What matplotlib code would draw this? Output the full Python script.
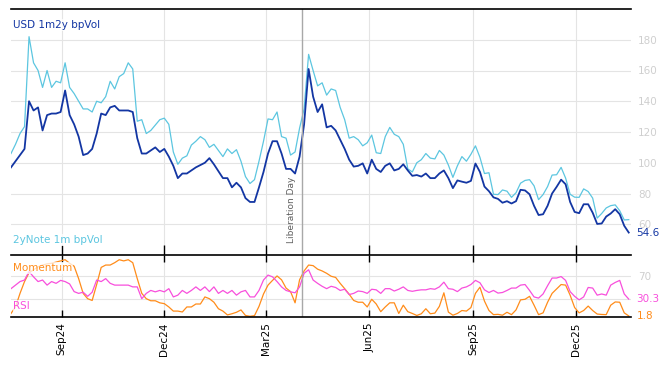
import numpy as np
import pandas as pd
import matplotlib
matplotlib.use('Agg')
import matplotlib.pyplot as plt
import matplotlib.dates as mdates

plt.rcParams['font.family'] = ['DejaVu Sans']

# data, one point every 4 days
dates = pd.date_range('2024-07-18', periods=138, freq='4D')

usd_vol = [97, 101, 105, 109, 140, 134, 136, 121, 131, 132,
           132, 133, 147, 131, 125, 117, 105, 106, 109, 119,
           132, 131, 136, 137, 134, 134, 134, 133, 116, 106,
           106, 108, 110, 107, 109, 104, 98, 90, 93, 93,
           95, 97, 98.5, 100, 103, 99, 94.5, 90, 90, 84,
           87, 84, 77, 74.5, 74.5, 84, 94, 106, 114, 114,
           106, 96, 96, 93, 104, 125, 161, 143, 133, 138,
           123, 124, 121, 115, 109, 102, 97.5, 98, 99.6, 93,
           102, 96, 94, 98, 99.6, 95, 96, 99, 95, 91.5,
           92, 91, 93, 90, 90, 93, 95, 90, 83.5, 88.5,
           87.7, 87, 88.2, 99.5, 94, 84.5, 81.5, 77.5, 76.5, 74,
           75, 73.5, 75, 82.4, 82, 79.5, 72, 66, 66.5, 72,
           80, 84.3, 89, 86, 74.5, 68, 67.2, 73, 73, 67.5,
           60.2, 60.5, 65, 67, 69.8, 66.5, 59, 54.6]

note_vol = [106, 112, 119, 123.5, 182, 165, 160, 149, 160, 149,
            153, 152, 165, 149, 145, 140, 135, 135, 133, 140,
            139, 143, 153, 148, 156, 158, 165, 161, 127, 128,
            119, 121, 124.5, 128, 129, 125, 107, 99, 103, 104.5,
            111.5, 114, 117, 115, 110, 112, 108, 104, 109, 106,
            108.5, 101, 91, 86.5, 89, 101, 114, 128.5, 128, 133,
            117, 116, 105, 107, 122.5, 135, 170.5, 160, 150, 152,
            144, 148, 147, 136, 128, 116, 117, 115, 111, 113,
            118, 106.5, 106, 117, 123, 118.5, 117, 112, 96, 94,
            100, 102, 106, 103, 102.5, 108, 105, 98.5, 90.5, 98,
            104, 101, 105.5, 111, 103.5, 93, 93.5, 79.5, 79.3, 82.3,
            81.5, 77.5, 80.5, 86.7, 88.5, 89, 85, 76, 79.3, 84.5,
            92, 92.2, 97, 90, 79.5, 77.6, 77.5, 83, 81.3, 77,
            64, 67, 70.6, 72.1, 72.6, 68.8, 62.8, 63]

momentum = [6, 17, 40, 60, 75, 80, 85, 88, 90, 91,
            93, 95, 97, 91, 86, 65, 40, 31, 28, 55,
            84, 88, 88, 92, 97, 95, 97, 92, 65, 40,
            31, 27.5, 27.5, 24, 22.6, 17, 10, 10, 8.5, 17,
            17, 22, 22, 34, 31, 25, 14, 10, 3.5, 5.5,
            8, 12, 2.6, 1.2, 2.3, 18, 39, 54, 62, 69.5,
            63, 49, 43, 24, 63, 78, 88, 87, 81, 78,
            74, 69, 67, 57, 48, 38.5, 28, 25, 25, 17,
            30, 22, 9, 17, 24, 24, 6, 20, 9, 6,
            2.6, 5.5, 14, 5.5, 6.6, 18, 41, 8.3, 3, 6,
            11, 10, 16, 40, 50.5, 27, 11, 4, 4.5, 3,
            8, 4, 12, 29, 30, 35, 20, 4, 7, 25,
            40, 47.5, 55, 54, 37, 16, 7, 11, 18.5, 11,
            5, 4.3, 4, 20, 25.5, 25, 7, 1.8]

rsi = [48, 54, 60, 62.6, 77, 68, 60, 62.6, 54, 60,
       57, 62, 60, 56, 43, 40, 42, 35, 42, 62.6,
       60, 65, 57, 54, 54, 54, 54, 51, 51, 31,
       40, 45, 42.6, 45, 42.6, 48, 34, 37, 45, 40,
       45, 51, 45, 51, 43, 51, 40, 45, 40, 45,
       37, 42.6, 45, 34, 34, 45, 62.6, 71, 68, 60,
       51, 45, 42.6, 41, 51, 74, 80, 62.6, 57, 52,
       48, 52, 50, 45, 47, 38, 40, 44, 43, 40,
       47, 46, 40, 48, 48, 44, 47, 51, 45, 43.5,
       45, 46, 46, 48, 47, 51, 59, 48, 47, 43,
       49, 51, 55, 62, 58, 46, 41.5, 45, 40.5, 41.5,
       45, 49, 49, 54, 55, 45, 34, 32, 39, 53,
       66, 66, 68.5, 62, 43, 35, 29, 34, 50, 49,
       37, 39, 37, 54, 58.5, 62, 39, 30.3]

vol_ticks = [60, 80, 100, 120, 140, 160, 180]
lib_day = pd.Timestamp('2025-04-02')

c_usd = '#1336a3'
c_note = '#5cc6e0'
c_mom = '#ff8c1a'
c_rsi = '#f84fdc'
c_grid = '#e4e4e4'
c_lbl = '#cfcfcf'

fig = plt.figure(figsize=(6.68, 3.66), dpi=100)
ax1 = fig.add_axes([11/668, 111/366, 620/668, 246/366])
ax2 = fig.add_axes([11/668, 49/366, 620/668, 62/366], sharex=ax1)

ax1.plot(dates, note_vol, color=c_note, lw=0.9)
ax1.plot(dates, usd_vol, color=c_usd, lw=1.3)
ax2.plot(dates, momentum, color=c_mom, lw=0.9)
ax2.plot(dates, rsi, color=c_rsi, lw=0.9)

ax1.set_xlim(pd.Timestamp('2024-07-18'), pd.Timestamp('2026-01-19'))
ax1.set_ylim(40, 200)
ax2.set_ylim(0, 105)

for ax in (ax1, ax2):
    ax.spines['left'].set_visible(False)
    ax.spines['right'].set_visible(False)
    ax.axvline(lib_day, color='#a8a8a8', lw=1)
    ax.grid(True, color=c_grid, lw=0.8)
    ax.set_axisbelow(True)
    ax.yaxis.tick_right()
    ax.tick_params(axis='y', length=0, pad=5, labelsize=7.5, labelcolor=c_lbl)

ax1.spines['bottom'].set_visible(False)
ax1.spines['top'].set_linewidth(1.2)
ax2.spines['top'].set_linewidth(1.2)
ax2.spines['bottom'].set_linewidth(1.2)

ax1.set_yticks(vol_ticks)
ax2.set_yticks([30, 70])
ax2.set_yticklabels(['', '70'])

ax2.xaxis.set_major_locator(mdates.MonthLocator(bymonth=[3, 6, 9, 12]))
ax2.xaxis.set_major_formatter(mdates.DateFormatter('%b%y'))
ax1.tick_params(axis='x', direction='in', length=7, width=1, labelbottom=False)
ax2.tick_params(axis='x', direction='in', length=5, width=1, top=True,
                labelsize=7.5, rotation=90, pad=4)

box = dict(facecolor='white', edgecolor='none', alpha=0.75, pad=0.5)
ax1.text(0.004, 0.935, 'USD 1m2y bpVol', transform=ax1.transAxes, color=c_usd,
         fontsize=7.5, va='center', ha='left', bbox=box)
ax1.text(0.004, 0.061, '2yNote 1m bpVol', transform=ax1.transAxes, color=c_note,
         fontsize=7.5, va='center', ha='left', bbox=box)
ax2.text(0.004, 0.79, 'Momentum', transform=ax2.transAxes, color=c_mom,
         fontsize=7.5, va='center', ha='left', bbox=box)
ax2.text(0.004, 0.18, 'RSI', transform=ax2.transAxes, color=c_rsi,
         fontsize=7.5, va='center', ha='left', bbox=box)
ax1.text(pd.Timestamp('2025-03-28'), 47.5, 'Liberation Day', rotation=90,
         color='#5f5f5f', fontsize=6.5, ha='right', va='bottom')

# last values on the right
ax1.text(1.009, usd_vol[-1], f'{usd_vol[-1]:.1f}', transform=ax1.get_yaxis_transform(),
         color=c_usd, fontsize=7.5, va='center', ha='left')
ax2.text(1.009, rsi[-1], f'{rsi[-1]:.1f}', transform=ax2.get_yaxis_transform(),
         color=c_rsi, fontsize=7.5, va='center', ha='left')
ax2.text(1.009, momentum[-1], f'{momentum[-1]:.1f}', transform=ax2.get_yaxis_transform(),
         color=c_mom, fontsize=7.5, va='center', ha='left')

fig.savefig('out.png', dpi=100)
